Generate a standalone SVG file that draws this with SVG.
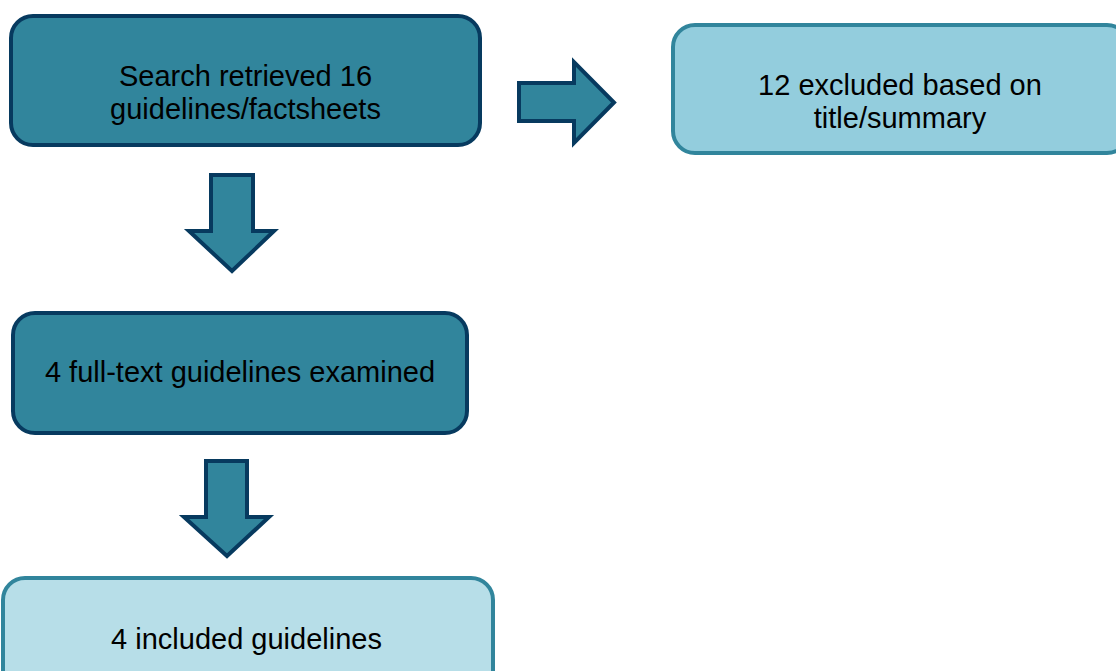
<svg xmlns="http://www.w3.org/2000/svg" width="1116" height="671" viewBox="0 0 1116 671">
<style>
.dark{fill:#31859c;stroke:#073a5f;stroke-width:4}
.light1{fill:#93cddd;stroke:#31859c;stroke-width:4}
.light2{fill:#b7dee8;stroke:#31859c;stroke-width:4}
.arr{fill:#31859c;stroke:#073a5f;stroke-width:4;stroke-linejoin:miter}
text{font-family:"Liberation Sans",Arial,sans-serif;font-size:29px;fill:#000;text-anchor:middle}
</style>
<rect width="1116" height="671" fill="#fff"/>
<g id="node-search">
<rect class="dark" x="11" y="16" width="469" height="129" rx="22"/>
<text x="245.5" y="86">Search retrieved 16</text>
<text x="245.5" y="119">guidelines/factsheets</text>
</g>
<g id="node-excluded">
<rect class="light1" x="673" y="25" width="456" height="128" rx="22"/>
<text x="900" y="95">12 excluded based on</text>
<text x="900" y="128">title/summary</text>
</g>
<g id="node-fulltext">
<rect class="dark" x="13" y="313" width="454" height="120" rx="22"/>
<text x="240" y="382">4 full-text guidelines examined</text>
</g>
<g id="node-included">
<rect class="light2" x="3" y="578" width="490" height="120" rx="22"/>
<text x="246.5" y="649">4 included guidelines</text>
</g>
<g id="connectors">
<path class="arr" d="M519,83 H574 V62 L614,102.5 L574,143 V121 H519 Z"/>
<path class="arr" d="M211,175 H253 V231 H274 L232,271 L189,231 H211 Z"/>
<path class="arr" d="M206,461 H247 V517 H269 L227,556 L184,517 H206 Z"/>
</g>
</svg>
